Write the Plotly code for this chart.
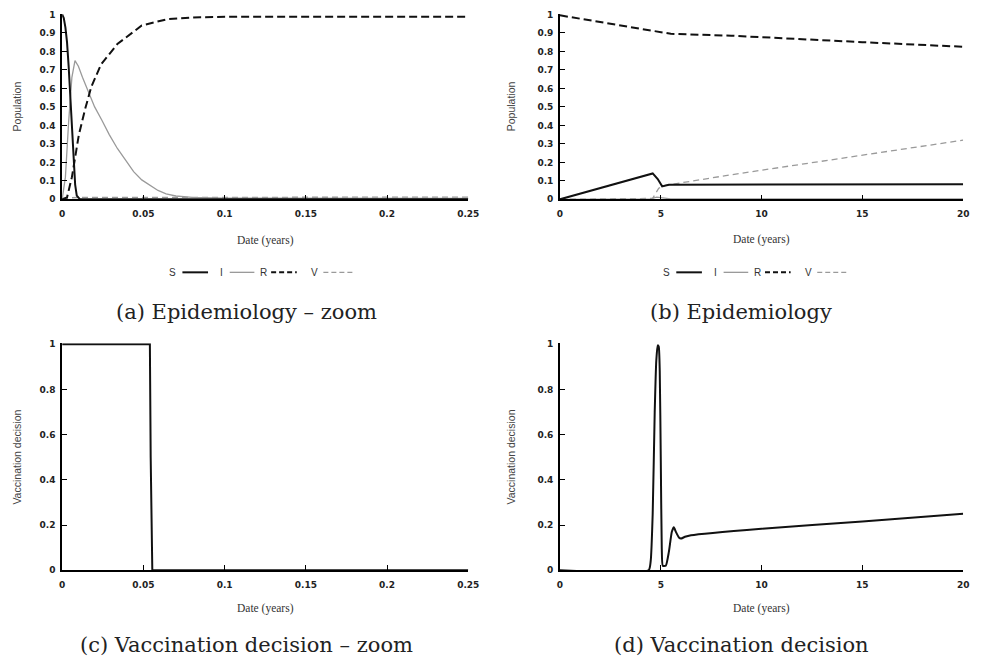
import plotly.graph_objects as go

W, H = 984, 667

# ---------------- data ----------------
# (a) Epidemiology - zoom (time in years)
t_a_S = [0, 0.001, 0.002, 0.003, 0.004, 0.005, 0.006, 0.007, 0.008, 0.009, 0.011, 0.25]
S_a = [1.0, 0.98, 0.93, 0.85, 0.72, 0.55, 0.37, 0.2, 0.08, 0.02, 0.0, 0.0]

t_a_I = [0, 0.002, 0.004, 0.006, 0.0079, 0.01, 0.0125, 0.0164, 0.02, 0.0243, 0.029, 0.034, 0.039,
         0.044, 0.049, 0.054, 0.059, 0.064, 0.07, 0.08, 0.1, 0.25]
I_a = [0.0, 0.12, 0.42, 0.66, 0.75, 0.72, 0.66, 0.577, 0.5, 0.43, 0.35, 0.275, 0.21,
       0.15, 0.105, 0.074, 0.048, 0.03, 0.018, 0.01, 0.006, 0.005]

t_a_R = [0, 0.003, 0.006, 0.0103, 0.0142, 0.018, 0.024, 0.034, 0.049, 0.065, 0.085, 0.11, 0.25]
R_a = [0.0, 0.01, 0.12, 0.35, 0.49, 0.61, 0.73, 0.84, 0.94, 0.975, 0.985, 0.988, 0.988]

t_a_V = [0, 0.005, 0.01, 0.25]
V_a = [0.0, 0.008, 0.01, 0.012]

# (b) Epidemiology (time in years)
t_b_S = [0, 4.6, 4.85, 5.07, 5.4, 10, 15, 20]
S_b = [0.0, 0.14, 0.11, 0.07, 0.079, 0.08, 0.081, 0.082]

t_b_I = [0, 4.5, 4.8, 5.1, 5.5, 20]
I_b = [0.0, 0.002, 0.012, 0.008, 0.003, 0.003]

t_b_R = [0, 4.8, 5.5, 8.5, 10, 15, 20]
R_b = [0.995, 0.905, 0.895, 0.885, 0.876, 0.85, 0.825]

t_b_V = [0, 4.6, 4.9, 5.2, 8.5, 15, 20]
V_b = [0.0, 0.005, 0.06, 0.075, 0.133, 0.24, 0.32]

# (c) Vaccination decision - zoom
t_c = [0, 0.054, 0.0545, 0.0555, 0.25]
D_c = [1.0, 1.0, 0.5, 0.0, 0.0]

# (d) Vaccination decision
t_d = [0, 4.4, 4.5, 4.6, 4.7, 4.78, 4.85, 4.9, 4.95, 5.0, 5.05, 5.1, 5.25, 5.4, 5.55, 5.65, 5.75,
       5.9, 6.0, 6.2, 6.5, 10, 15, 20]
D_d = [0.0, 0.0, 0.04, 0.25, 0.7, 0.93, 0.995, 0.99, 0.88, 0.5, 0.1, 0.02, 0.02, 0.08, 0.17, 0.19,
       0.17, 0.145, 0.14, 0.148, 0.155, 0.184, 0.216, 0.25]

# tick labels
ticks_a_x = [0, 0.05, 0.1, 0.15, 0.2, 0.25]
ticks_a_x_txt = ["0", "0.05", "0.1", "0.15", "0.2", "0.25"]
ticks_b_x = [0, 5, 10, 15, 20]
ticks_b_x_txt = ["0", "5", "10", "15", "20"]
ticks_pop = [0, 0.1, 0.2, 0.3, 0.4, 0.5, 0.6, 0.7, 0.8, 0.9, 1]
ticks_pop_txt = ["0", "0.1", "0.2", "0.3", "0.4", "0.5", "0.6", "0.7", "0.8", "0.9", "1"]
ticks_dec = [0, 0.2, 0.4, 0.6, 0.8, 1]
ticks_dec_txt = ["0", "0.2", "0.4", "0.6", "0.8", "1"]

series_names = ["S", "I", "R", "V"]
captions = ["(a) Epidemiology \u2013 zoom", "(b) Epidemiology",
            "(c) Vaccination decision \u2013 zoom", "(d) Vaccination decision"]

# ---------------- styles ----------------
BLACK = "#111111"
GREY = "#9a9a9a"
styles = {
    "S": dict(color=BLACK, width=2.0, dash="solid"),
    "I": dict(color=GREY, width=1.3, dash="solid"),
    "R": dict(color=BLACK, width=2.0, dash="8px,4px"),
    "V": dict(color=GREY, width=1.3, dash="6px,4px"),
}

def px_x(p):
    return p / W

def px_y(p):
    return 1 - p / H

fig = go.Figure()

def add(x, y, name, xa, ya):
    fig.add_trace(go.Scatter(x=x, y=y, mode="lines", name=name, line=styles[name],
                             xaxis=xa, yaxis=ya, showlegend=False))

# (a)
add(t_a_V, V_a, "V", "x", "y")
add(t_a_I, I_a, "I", "x", "y")
add(t_a_R, R_a, "R", "x", "y")
add(t_a_S, S_a, "S", "x", "y")
# (b)
add(t_b_V, V_b, "V", "x2", "y2")
add(t_b_I, I_b, "I", "x2", "y2")
add(t_b_R, R_b, "R", "x2", "y2")
add(t_b_S, S_b, "S", "x2", "y2")
# (c), (d)
fig.add_trace(go.Scatter(x=t_c, y=D_c, mode="lines", line=dict(color=BLACK, width=2.0),
                         xaxis="x3", yaxis="y3", showlegend=False))
fig.add_trace(go.Scatter(x=t_d, y=D_d, mode="lines", line=dict(color=BLACK, width=2.0, shape="spline", smoothing=0.5),
                         xaxis="x4", yaxis="y4", showlegend=False))

tickfont = dict(family="DejaVu Sans", size=9, color="#222222", weight="bold")
common = dict(showline=True, linecolor="black", linewidth=1.6, ticks="inside", ticklen=5,
              tickwidth=1.4, tickcolor="black", showgrid=False, zeroline=False,
              tickfont=tickfont, fixedrange=True)
xcommon = dict(common, ticklabelstandoff=5)
ycommon = dict(common, ticklabelstandoff=3)

left_dom = [px_x(60), px_x(472)]
right_dom = [px_x(565), px_x(974)]
top_dom = [px_y(198), px_y(10)]
bot_dom = [px_y(574), px_y(344)]

fig.update_layout(
    width=W, height=H, margin=dict(l=0, r=0, t=0, b=0),
    paper_bgcolor="white", plot_bgcolor="white", showlegend=False,
    xaxis=dict(domain=left_dom, anchor="y", range=[0, 0.25], tickvals=ticks_a_x,
               ticktext=ticks_a_x_txt, **xcommon),
    yaxis=dict(domain=top_dom, anchor="x", range=[0, 1.003], tickvals=ticks_pop,
               ticktext=ticks_pop_txt, **ycommon),
    xaxis2=dict(domain=right_dom, anchor="y2", range=[0, 20], tickvals=ticks_b_x,
                ticktext=ticks_b_x_txt, **xcommon),
    yaxis2=dict(domain=top_dom, anchor="x2", range=[0, 1.003], tickvals=ticks_pop,
                ticktext=ticks_pop_txt, **ycommon),
    xaxis3=dict(domain=left_dom, anchor="y3", range=[0, 0.25], tickvals=ticks_a_x,
                ticktext=ticks_a_x_txt, **xcommon),
    yaxis3=dict(domain=bot_dom, anchor="x3", range=[0, 1.004], tickvals=ticks_dec,
                ticktext=ticks_dec_txt, **ycommon),
    xaxis4=dict(domain=right_dom, anchor="y4", range=[0, 20], tickvals=ticks_b_x,
                ticktext=ticks_b_x_txt, **xcommon),
    yaxis4=dict(domain=bot_dom, anchor="x4", range=[0, 1.004], tickvals=ticks_dec,
                ticktext=ticks_dec_txt, **ycommon),
)

annotations = []
shapes = []

def text(x, y, s, size, family, color="#222222", angle=0):
    annotations.append(dict(x=px_x(x), y=px_y(y), xref="paper", yref="paper", text=s,
                            showarrow=False, xanchor="center", yanchor="middle",
                            textangle=angle, font=dict(size=size, family=family, color=color)))

# axis titles
axis_font = "Liberation Serif"
for cx, cy in [(266, 240), (769, 239), (266, 613), (769, 613)]:
    text(cx, cy, "Date (years)", 11.5, axis_font, "#333333")
for cx in [14, 515]:
    text(cx, 104, "Population", 10.5, "Liberation Sans", "#444444", -90)
    text(cx, 459, "Vaccination decision", 10.5, "Liberation Sans", "#444444", -90)

# captions
cap_font = "DejaVu Serif"
text(247, 312, captions[0], 21, cap_font, "#222222")
text(749, 312, captions[1], 21, cap_font, "#222222")
text(247, 650, captions[2], 21, cap_font, "#222222")
text(749, 650, captions[3], 21, cap_font, "#222222")

# custom legends (label followed by line sample)
legend_layout = [("S", 172, 182, 208), ("I", 222, 230, 255), ("R", 264, 272, 298), ("V", 316, 325, 357)]
for off in [0, 501]:
    for name, tx, l0, l1 in legend_layout:
        text(tx + off, 272, name, 10, "Liberation Sans", "#333333")
        st = styles[name]
        shapes.append(dict(type="line", xref="paper", yref="paper",
                           x0=px_x(l0 + off), x1=px_x(l1 + off), y0=px_y(272), y1=px_y(272),
                           line=dict(color=st["color"], width=st["width"],
                                     dash="5px,3px" if st["dash"] != "solid" else "solid")))

fig.update_layout(annotations=annotations, shapes=shapes)
fig.write_html("out.html")
